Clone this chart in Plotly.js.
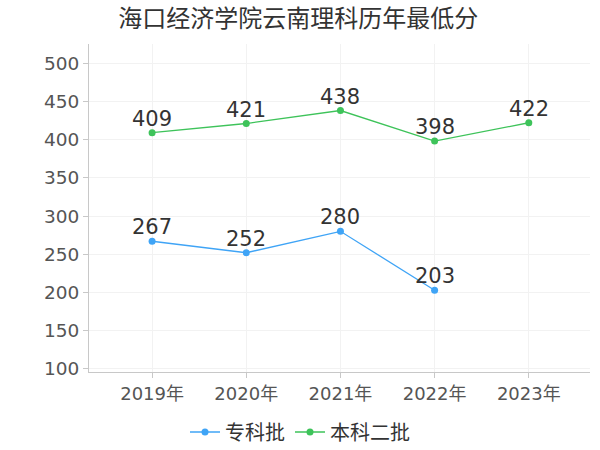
<!DOCTYPE html>
<html>
<head>
<meta charset="utf-8">
<script src="https://cdn.plot.ly/plotly-3.0.1.min.js"></script>
<style>
  body { margin: 0; background: #fff; }
  #chart { width: 600px; height: 450px; }
</style>
</head>
<body>
<div id="chart"></div>
<script>
let years = ['2019年', '2020年', '2021年', '2022年', '2023年'];
let zhuanke = [267, 252, 280, 203, null];
let benke2 = [409, 421, 438, 398, 422];

let fontStack = '"DejaVu Sans", "Noto Sans CJK SC", sans-serif';

function makeTrace(name, values, color) {
    return {
        x: years,
        y: values,
        name: name,
        type: 'scatter',
        mode: 'lines+markers',
        line: { color: color, width: 1.3 },
        marker: { color: color, size: 7 },
        connectgaps: false,
        cliponaxis: false
    };
}

// value labels sit just above each point
function makeLabels(values) {
    return values.map((v, i) => v === null ? null : {
        x: years[i],
        y: v,
        text: String(v),
        showarrow: false,
        yanchor: 'middle',
        yshift: 14,
        font: { family: fontStack, size: 21, color: '#333' }
    }).filter(a => a !== null);
}

let data = [
    makeTrace('专科批', zhuanke, '#3fa4f6'),
    makeTrace('本科二批', benke2, '#3ec35a')
];

let layout = {
    title: {
        text: '海口经济学院云南理科历年最低分',
        font: { family: fontStack, size: 24, color: '#333' },
        x: 0.497, xanchor: 'center',
        y: 0.958, yanchor: 'middle'
    },
    width: 600,
    height: 450,
    margin: { l: 89, r: 10, t: 44, b: 78 },
    paper_bgcolor: '#fff',
    plot_bgcolor: '#fff',
    showlegend: true,
    legend: {
        orientation: 'h',
        x: 0.5, xanchor: 'center', xref: 'container',
        y: 0.04, yanchor: 'middle', yref: 'container',
        font: { family: fontStack, size: 20, color: '#333' },
        itemwidth: 30,
        tracegroupgap: 0
    },
    annotations: makeLabels(zhuanke).concat(makeLabels(benke2)),
    xaxis: {
        type: 'category',
        range: [-0.67, 4.65],
        showgrid: true,
        gridcolor: '#f2f2f2',
        showline: true,
        linecolor: '#c8c8c8',
        ticks: 'outside',
        ticklen: 5,
        tickcolor: '#c8c8c8',
        tickfont: { family: fontStack, size: 18, color: '#555' },
        zeroline: false,
        fixedrange: true
    },
    yaxis: {
        range: [96, 525],
        tickvals: [100, 150, 200, 250, 300, 350, 400, 450, 500],
        showgrid: true,
        gridcolor: '#f2f2f2',
        showline: true,
        linecolor: '#c8c8c8',
        ticks: 'outside',
        ticklen: 5,
        tickcolor: '#c8c8c8',
        tickfont: { family: fontStack, size: 18.5, color: '#555' },
        zeroline: false,
        fixedrange: true
    }
};

Plotly.newPlot('chart', data, layout, { displayModeBar: false, staticPlot: true });
</script>
</body>
</html>
